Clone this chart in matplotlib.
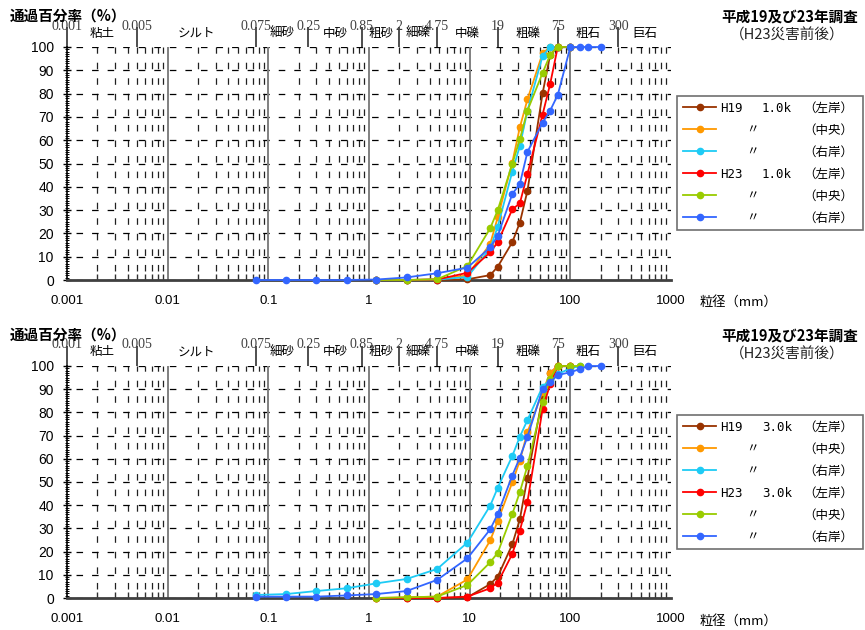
import matplotlib
matplotlib.use("Agg")
import matplotlib.pyplot as plt
from matplotlib.ticker import FixedLocator, FixedFormatter, MultipleLocator, NullFormatter

plt.rcParams['lines.scale_dashes'] = False
plt.rcParams['font.family'] = ['Liberation Sans', 'Noto Sans CJK JP', 'DejaVu Sans']

W, H = 865, 630
CJK = ['Noto Sans CJK JP', 'DejaVu Sans']

# ---------------- data ----------------
SIZES = [0.075, 0.15, 0.3, 0.6, 1.18, 2.36, 4.75, 9.5, 16, 19, 26.5, 31.5,
         37.5, 53, 63, 75, 100, 125, 150, 200]

# 1.0k (top panel): values (%) starting at SIZES[start]
P1_H19_LEFT = [0, 0, 0, 0.3, 2.1, 5.7, 16.2, 24.6, 38.3, 80.1, 96.6, 100, 100]
P1_H19_CENTER = [0, 0, 0.3, 2.0, 15.5, 26.9, 50.4, 65.5, 77.5, 97.3, 100, 100, 100]
P1_H19_RIGHT = [0, 0, 0.2, 1.3, 13.6, 22.9, 46.5, 57.5, 72.7, 96.1, 100, 100, 100]
P1_H23_LEFT = [0, 0, 0.2, 3.1, 11.9, 16.2, 30.3, 32.9, 45.5, 71.0, 84.1, 100, 100]
P1_H23_CENTER = [0, 0, 0.3, 6.0, 22.2, 30.0, 49.8, 60.4, 72.7, 88.9, 96.6, 100, 100]
P1_H23_RIGHT = [0, 0, 0, 0, 0.2, 1.1, 2.9, 5.3, 14.0, 18.9, 36.9, 41.2, 55.0,
                67.5, 72.7, 79.4, 100, 100, 100, 100]
P1_STARTS = [4, 4, 4, 4, 4, 0]

# 3.0k (bottom panel)
P2_H19_LEFT = [0, 0, 0, 0.3, 6.0, 9.2, 23.1, 33.9, 51.9, 86.8, 97.0, 100, 100]
P2_H19_CENTER = [0, 0.3, 0.6, 8.0, 24.8, 33.2, 49.8, 59.2, 71.5, 88.9, 97.0, 100, 100]
P2_H19_RIGHT = [1.3, 1.7, 3.0, 4.2, 6.3, 8.2, 12.5, 23.9, 39.8, 47.5, 61.2, 69.5,
                76.7, 91.1, 94.0, 96.5, 99.0, 100]
P2_H23_LEFT = [0, 0, 0, 0.6, 4.2, 6.6, 19.0, 29.0, 41.5, 81.4, 92.2, 100, 100]
P2_H23_CENTER = [0, 0.3, 0.6, 5.6, 15.4, 19.5, 36.2, 45.6, 57.0, 84.4, 94.5, 100, 100, 100]
P2_H23_RIGHT = [0.6, 0.6, 0.6, 1.1, 1.7, 3.0, 7.8, 17.1, 29.6, 36.2, 52.8, 60.5,
                69.5, 90.0, 93.0, 96.1, 97.3, 98.7, 100, 100]
P2_STARTS = [4, 4, 0, 4, 4, 0]

SERIES_COLORS = ['#993300', '#FF9900', '#1ECBF5', '#FF0000', '#99CC00', '#3366FF']
LEG_YEAR = ['H19', '', '', 'H23', '', '']
LEG_BANK = ['（左岸）', '（中央）', '（右岸）', '（左岸）', '（中央）', '（右岸）']

XTICKS = [0.001, 0.01, 0.1, 1, 10, 100, 1000]
XTICK_LABELS = ['0.001', '0.01', '0.1', '1', '10', '100', '1000']

BOUNDS = [0.001, 0.005, 0.075, 0.25, 0.85, 2, 4.75, 19, 75, 300]
BOUND_LABELS = ['0.001', '0.005', '0.075', '0.25', '0.85', '2', '4.75', '19', '75', '300']
CLASSES = ['粘土', 'シルト', '細砂', '中砂', '粗砂', '細礫', '中礫', '粗礫', '粗石', '巨石']

PANELS = [
    dict(series=[P1_H19_LEFT, P1_H19_CENTER, P1_H19_RIGHT, P1_H23_LEFT, P1_H23_CENTER, P1_H23_RIGHT],
         starts=P1_STARTS, dist='1.0k', top=47, bottom=280, off=0),
    dict(series=[P2_H19_LEFT, P2_H19_CENTER, P2_H19_RIGHT, P2_H23_LEFT, P2_H23_CENTER, P2_H23_RIGHT],
         starts=P2_STARTS, dist='3.0k', top=366, bottom=598, off=319),
]

# ---------------- drawing ----------------
fig = plt.figure(figsize=(W / 100, H / 100), dpi=100)
fig.patch.set_facecolor('white')

AX_L, AX_R = 67, 671
DASH = (4.7, (4.7, 6.5))

legends = []
for p in PANELS:
    hpx = p['bottom'] - p['top']
    ax = fig.add_axes([AX_L / W, 1 - p['bottom'] / H, (AX_R - AX_L) / W, hpx / H])
    ax.set_xscale('log')
    ax.set_xlim(XTICKS[0], XTICKS[-1])
    ax.set_ylim(0, 100)

    # grid
    minor = [m * d for d in XTICKS[:-1] for m in range(2, 10)] + [XTICKS[-1]]
    ax.xaxis.set_major_locator(FixedLocator(XTICKS))
    ax.xaxis.set_major_formatter(FixedFormatter(XTICK_LABELS))
    ax.xaxis.set_minor_locator(FixedLocator(minor))
    ax.xaxis.set_minor_formatter(NullFormatter())
    ax.yaxis.set_major_locator(MultipleLocator(10))
    ax.yaxis.set_minor_locator(MultipleLocator(1))
    ax.grid(which='minor', axis='x', color='#202020', lw=0.9, ls=DASH)
    ax.grid(which='major', axis='y', color='#000000', lw=0.9, ls=DASH)
    for d in XTICKS[1:-1]:
        ax.axvline(d, color='#808080', lw=1.4, zorder=1)
    ax.set_axisbelow(True)

    for s in ['top', 'right']:
        ax.spines[s].set_visible(False)
    ax.spines['left'].set_color('#000000')
    ax.spines['left'].set_linewidth(1.2)
    ax.spines['bottom'].set_color('#404040')
    ax.spines['bottom'].set_linewidth(2.0)

    ax.tick_params(axis='x', which='major', length=0, pad=11, labelsize=9.5)
    ax.tick_params(axis='x', which='minor', direction='in', length=4, width=1, color='#303030')
    ax.tick_params(axis='y', which='major', direction='inout', length=6, width=1, pad=6.5,
                   labelsize=10)
    ax.tick_params(axis='y', which='minor', direction='inout', length=2.5, width=0.7)

    # data
    handles = []
    for vals, st, col in zip(p['series'], p['starts'], SERIES_COLORS):
        ln, = ax.plot(SIZES[st:st + len(vals)], vals, color=col, lw=1.3, marker='o',
                      ms=4.5, mec=col, mfc=col, clip_on=False, zorder=3)
        handles.append(ln)

    # soil classification header
    trans = ax.get_xaxis_transform()
    ax.vlines(BOUNDS, 1, 1 + 20 / hpx, transform=trans, clip_on=False,
              colors='#404040', lw=1.3)
    for b, lab in zip(BOUNDS, BOUND_LABELS):
        ax.text(b, 1 + 21 / hpx, lab, transform=trans, ha='center', va='center',
                family=['Liberation Serif'], fontsize=10, color='#404040')
    edges = BOUNDS + [XTICKS[-1]]
    for i, c in enumerate(CLASSES):
        xc = (edges[i] * edges[i + 1]) ** 0.5
        ax.text(xc, 1 + 14 / hpx, c, transform=trans, ha='center', va='center',
                family=CJK, fontsize=9)

    off = p['off']
    fig.text(10 / W, 1 - (16 + off) / H, '通過百分率（%）', ha='left', va='center',
             family=CJK, fontsize=10.5, weight='bold')
    fig.text(790 / W, 1 - (17 + off) / H, '平成19及び23年調査', ha='center', va='center',
             family=CJK, fontsize=10.5, weight='bold')
    fig.text(787 / W, 1 - (35 + off) / H, '（H23災害前後）', ha='center', va='center',
             family=CJK, fontsize=10.5, color='#222222')
    fig.text(700 / W, 1 - (302 + off) / H, '粒径（mm）', ha='left', va='center',
             family=CJK, fontsize=9.5)

    leg = fig.legend(handles, ['\u3000' * 11] * 6, loc='upper left',
                     bbox_to_anchor=(677 / W, 1 - (96 + off) / H), bbox_transform=fig.transFigure,
                     borderaxespad=0, frameon=True, fancybox=False, edgecolor='#707070',
                     framealpha=1, facecolor='white',
                     prop={'family': 'Noto Sans CJK JP', 'size': 9},
                     handlelength=2.7, handletextpad=0.3, borderpad=0.45, labelspacing=0.72)
    leg.get_frame().set_linewidth(1.2)
    legends.append((leg, p['dist']))

fig.canvas.draw()
renderer = fig.canvas.get_renderer()
for leg, dist in legends:
    for i, t in enumerate(leg.get_texts()):
        bb = t.get_window_extent(renderer)
        yc = (bb.y0 + bb.y1) / 2 / H
        if LEG_YEAR[i]:
            fig.text(720 / W, yc, LEG_YEAR[i], ha='left', va='center',
                     family=['DejaVu Sans Mono'], fontsize=9, zorder=10)
            fig.text(762 / W, yc, dist, ha='left', va='center',
                     family=['DejaVu Sans Mono'], fontsize=9, zorder=10)
        else:
            fig.text(752 / W, yc, '〃', ha='center', va='center', family=CJK, fontsize=9,
                     zorder=10)
        fig.text(803 / W, yc, LEG_BANK[i], ha='left', va='center', family=CJK, fontsize=9,
                 zorder=10)

fig.savefig('out.png', dpi=100, facecolor='white')
